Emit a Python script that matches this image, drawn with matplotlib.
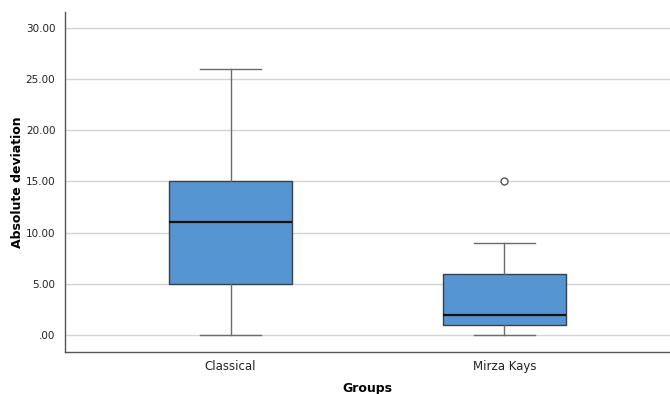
import matplotlib.pyplot as plt

# dati
groups = ["Classical", "Mirza Kays"]
whisker_low = [0, 0]
q1 = [5, 1]
median = [11, 2]
q3 = [15, 6]
whisker_high = [26, 9]
outliers = [[], [15]]

y_ticks = [0, 5, 10, 15, 20, 25, 30]
y_tick_labels = [".00", "5.00", "10.00", "15.00", "20.00", "25.00", "30.00"]

stats = []
for i in range(len(groups)):
    stats.append({
        "label": groups[i],
        "whislo": whisker_low[i],
        "q1": q1[i],
        "med": median[i],
        "q3": q3[i],
        "whishi": whisker_high[i],
        "fliers": outliers[i],
    })

fig = plt.figure(figsize=(6.7, 3.94), dpi=100)
ax = fig.add_axes([65 / 670, 42 / 394, 605 / 670, 340 / 394])

ax.set_axisbelow(True)
ax.yaxis.grid(True, color="#d4d4d4", linewidth=1.0)

ax.bxp(stats, positions=[1, 2], widths=0.45, patch_artist=True,
       boxprops=dict(facecolor="#5495d2", edgecolor="#3a3f48", linewidth=1.0),
       medianprops=dict(color="#111111", linewidth=1.6),
       whiskerprops=dict(color="#6b6b6b", linewidth=1.0),
       capprops=dict(color="#6b6b6b", linewidth=1.0),
       capwidths=0.225,
       flierprops=dict(marker="o", markersize=5, markerfacecolor="white",
                       markeredgecolor="#555555", markeredgewidth=1.0))

ax.set_xlim(0.395, 2.605)
ax.set_ylim(-1.66, 31.56)
ax.set_yticks(y_ticks)
ax.set_yticklabels(y_tick_labels, fontsize=7.5, color="#222222")
ax.tick_params(axis="x", labelsize=8.5, length=0, pad=6, colors="#222222")
ax.tick_params(axis="y", length=0, pad=7)

for s in ["top", "right"]:
    ax.spines[s].set_visible(False)
for s in ["left", "bottom"]:
    ax.spines[s].set_color("#555555")
    ax.spines[s].set_linewidth(1.0)

ax.set_ylabel("Absolute deviation", fontsize=9, fontweight="bold")
ax.set_xlabel("Groups", fontsize=9, fontweight="bold")
ax.yaxis.set_label_coords(-0.068, 0.5)
ax.xaxis.set_label_coords(0.5, -0.088)

plt.savefig("out.png", dpi=100)
plt.close()
